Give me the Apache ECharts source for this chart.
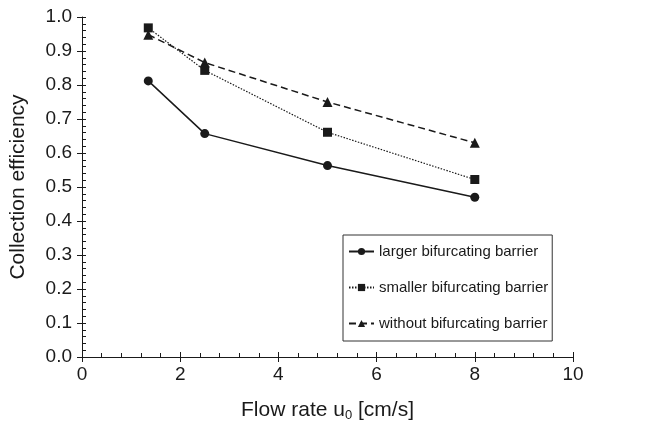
<!DOCTYPE html>
<html>
<head>
<meta charset="utf-8">
<title>Collection efficiency</title>
<script src="https://cdn.jsdelivr.net/npm/echarts@6/dist/echarts.min.js"></script>
<style>
  html, body { margin: 0; padding: 0; background: #fff; }
  #mypic { width: 657px; height: 427px; }
</style>
</head>
<body>
<div id="mypic"></div>
<script>
// data
var flowRate = [1.35, 2.5, 5, 8];
var larger = [0.812, 0.657, 0.563, 0.470];
var smaller = [0.968, 0.843, 0.661, 0.522];
var without = [0.948, 0.866, 0.750, 0.630];
var seriesNames = ['larger bifurcating barrier', 'smaller bifurcating barrier', 'without bifurcating barrier'];

function pairs(ys) {
  var out = [];
  for (var i = 0; i < flowRate.length; i++) {
    out.push([flowRate[i], ys[i]]);
  }
  return out;
}

var ink = '#1a1a1a';
var font = 'Liberation Sans, Arial, sans-serif';

var myChart = echarts.init(document.getElementById('mypic'));

var option = {
  backgroundColor: '#fff',
  animation: false,
  grid: { left: 82, right: 84, top: 17, bottom: 65 },
  legend: {
    data: seriesNames,
    orient: 'vertical',
    left: 343,
    top: 235,
    itemGap: 21,
    itemWidth: 25,
    itemHeight: 9,
    padding: [9, 4, 10, 5],
    borderColor: '#333',
    borderWidth: 1,
    textStyle: { fontFamily: font, fontSize: 15, color: ink }
  },
  xAxis: [
    {
      type: 'value', min: 0, max: 10, interval: 2, position: 'bottom',
      name: '{a|Flow rate u}{s|0}{a| [cm/s]}',
      nameLocation: 'middle', nameGap: 41,
      nameTextStyle: {
        rich: {
          a: { fontFamily: font, fontSize: 21, color: ink },
          s: { fontFamily: font, fontSize: 13, color: ink, verticalAlign: 'bottom', padding: [11, 0, 0, 0] }
        }
      },
      axisLine: { lineStyle: { color: ink, width: 1 } },
      axisTick: { show: true, inside: false, length: 5, lineStyle: { color: ink } },
      axisLabel: { fontFamily: font, fontSize: 19, color: ink, margin: 8 },
      splitLine: { show: false }
    },
    {
      // inner ticks + minor ticks
      type: 'value', min: 0, max: 10, interval: 2, position: 'bottom',
      axisLine: { show: false },
      axisTick: { show: true, inside: true, length: 5, lineStyle: { color: ink } },
      minorTick: { show: true, splitNumber: 5, length: 4, lineStyle: { color: ink } },
      axisLabel: { show: false },
      splitLine: { show: false }
    }
  ],
  yAxis: [
    {
      type: 'value', min: 0, max: 1, interval: 0.1, position: 'left',
      name: 'Collection efficiency',
      nameLocation: 'middle', nameGap: 53,
      nameTextStyle: { fontFamily: font, fontSize: 21, color: ink },
      axisLine: { show: true, lineStyle: { color: ink, width: 1 } },
      axisTick: { show: true, inside: false, length: 5, lineStyle: { color: ink } },
      axisLabel: {
        fontFamily: font, fontSize: 19, color: ink, margin: 10,
        formatter: function (v) { return v.toFixed(1); }
      },
      splitLine: { show: false }
    },
    {
      type: 'value', min: 0, max: 1, interval: 0.1, position: 'left',
      axisLine: { show: false },
      axisTick: { show: true, inside: true, length: 4, lineStyle: { color: ink } },
      minorTick: { show: true, splitNumber: 5, length: 4, lineStyle: { color: ink } },
      axisLabel: { show: false },
      splitLine: { show: false }
    }
  ],
  series: [
    {
      name: seriesNames[0], type: 'line', data: pairs(larger),
      symbol: 'circle', symbolSize: 9,
      lineStyle: { color: ink, width: 1.5, type: 'solid' },
      itemStyle: { color: ink }
    },
    {
      name: seriesNames[1], type: 'line', data: pairs(smaller),
      symbol: 'rect', symbolSize: 9,
      lineStyle: { color: ink, width: 1.2, type: [1.5, 1.5] },
      itemStyle: { color: ink }
    },
    {
      name: seriesNames[2], type: 'line', data: pairs(without),
      symbol: 'triangle', symbolSize: 10,
      lineStyle: { color: ink, width: 1.5, type: [7, 4] },
      itemStyle: { color: ink }
    }
  ]
};

myChart.setOption(option);
</script>
</body>
</html>
